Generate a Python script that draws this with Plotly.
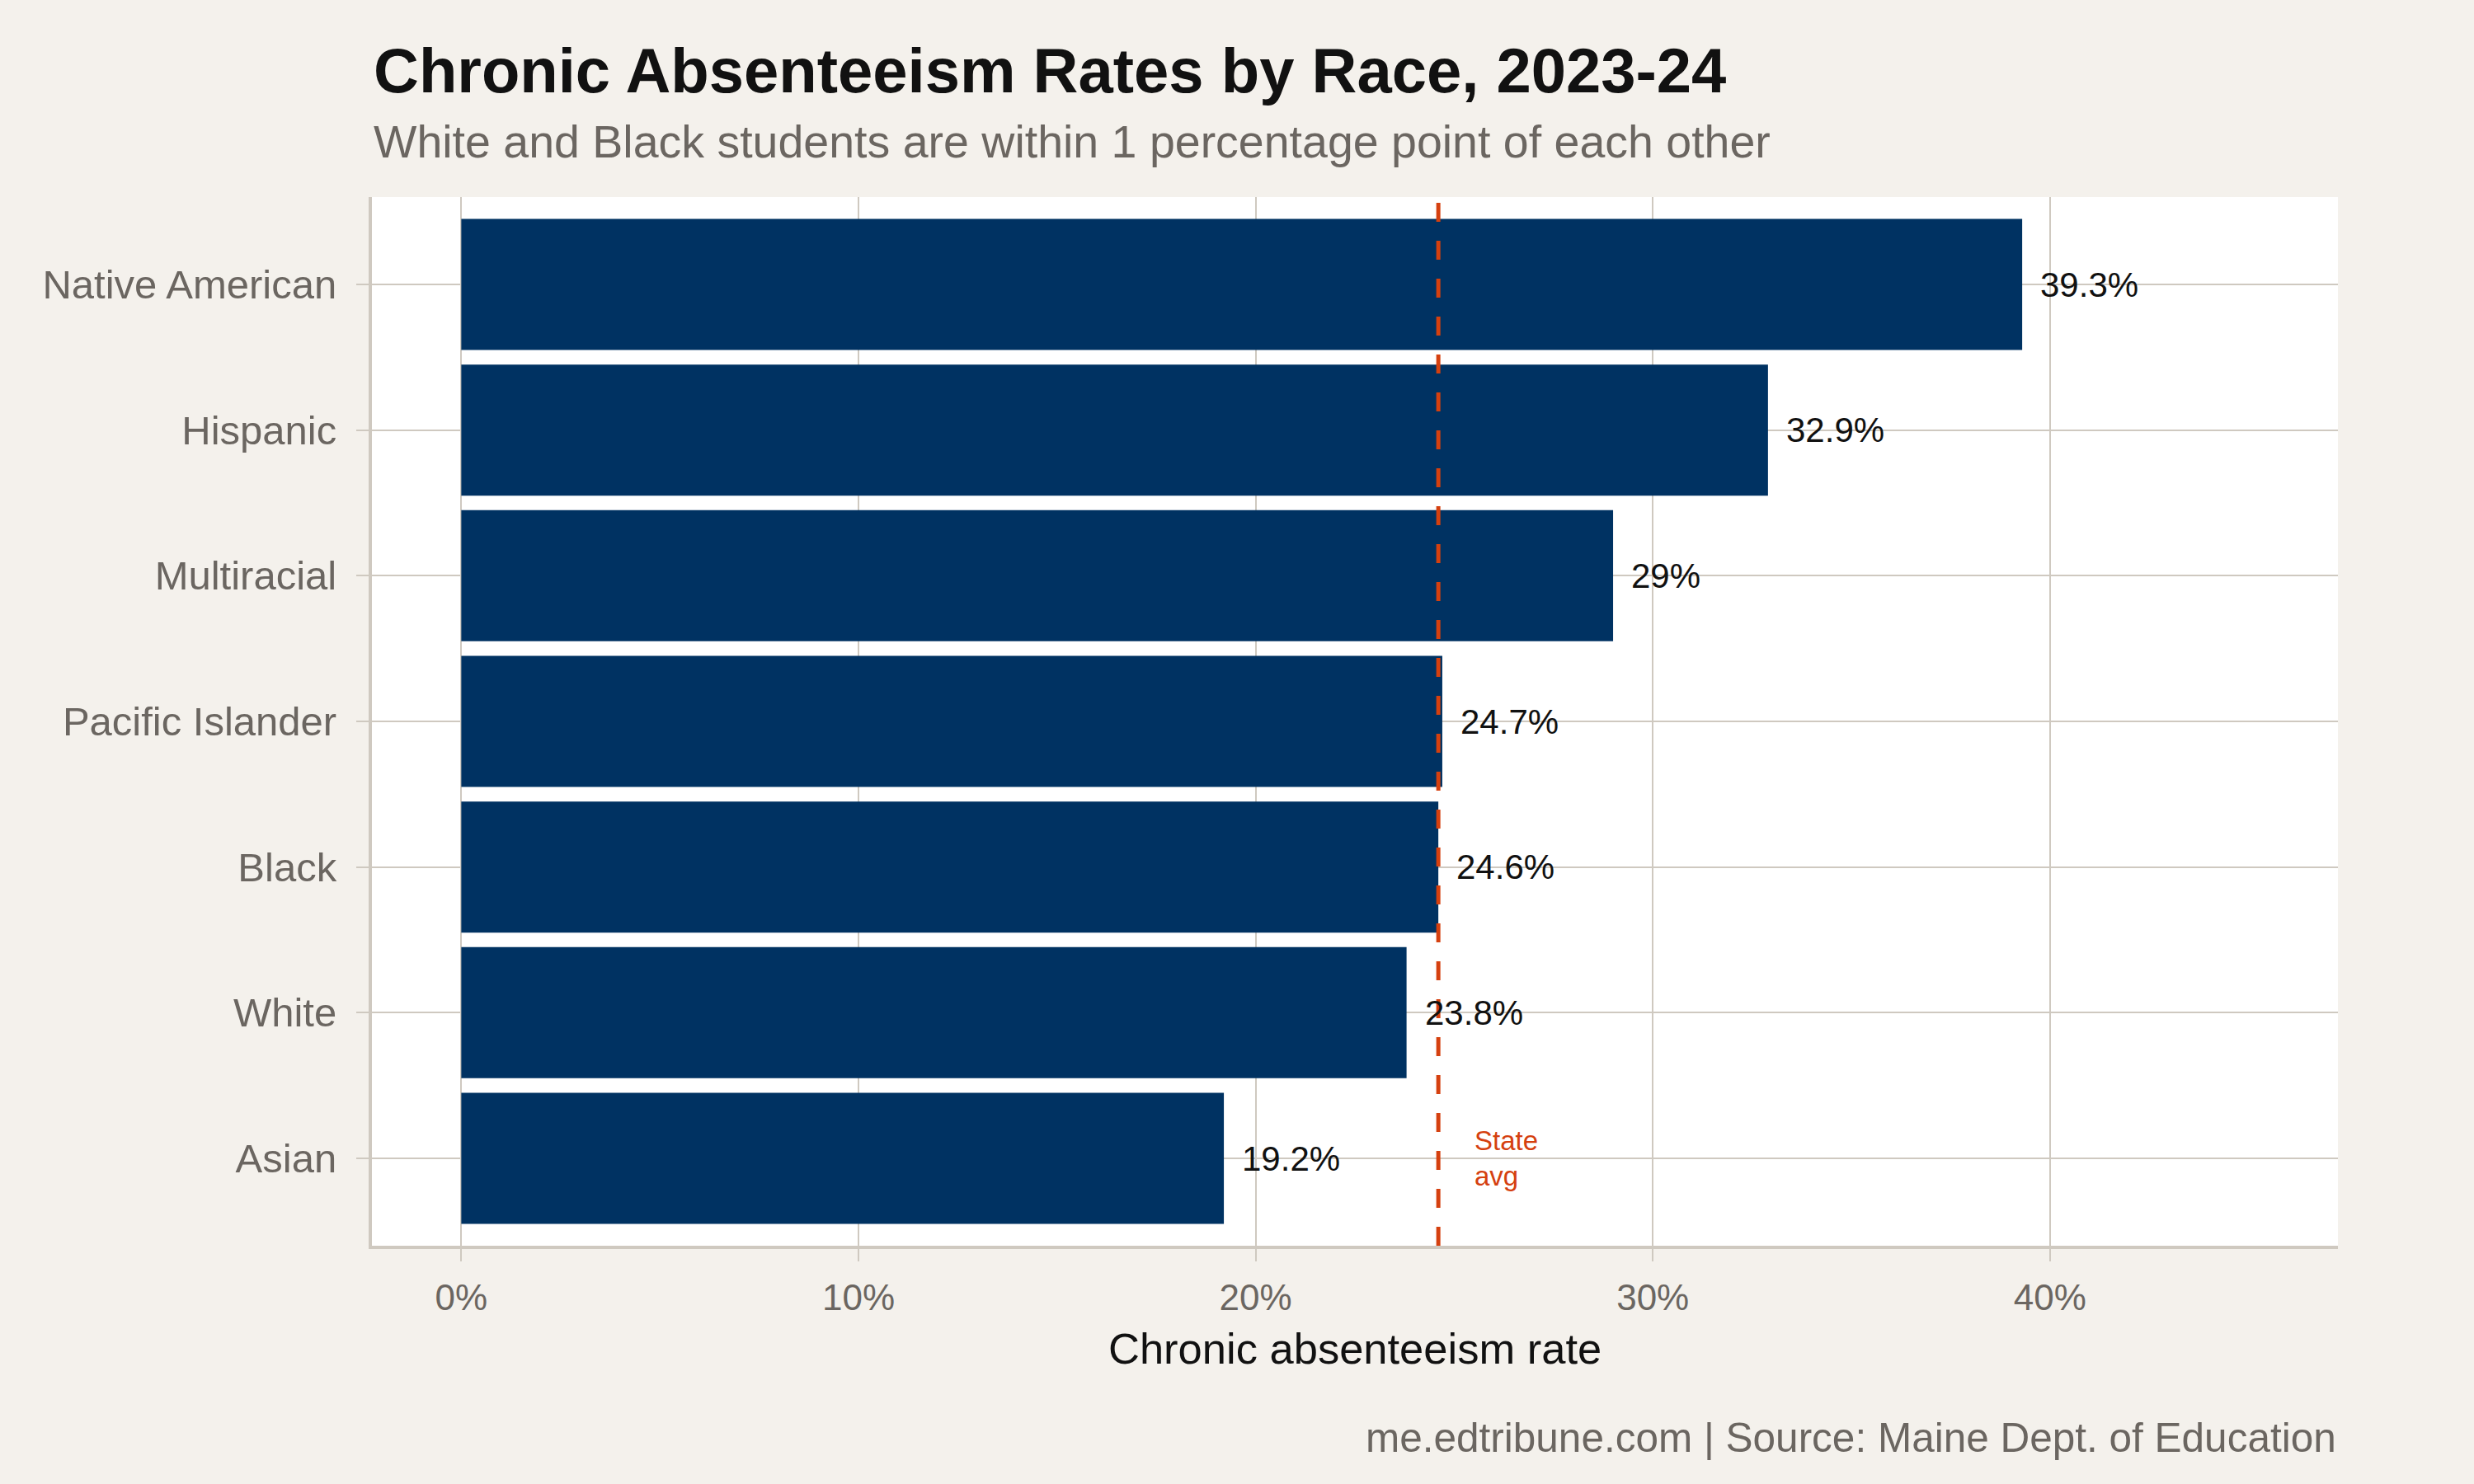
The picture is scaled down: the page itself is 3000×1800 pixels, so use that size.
import plotly.graph_objects as go

categories = ["Asian", "White", "Black", "Pacific Islander", "Multiracial", "Hispanic", "Native American"]
rates = [19.2, 23.8, 24.6, 24.7, 29.0, 32.9, 39.3]
rate_labels = ["19.2%", "23.8%", "24.6%", "24.7%", "29%", "32.9%", "39.3%"]
state_avg = 24.6
x_ticks = [0, 10, 20, 30, 40]
x_tick_labels = ["0%", "10%", "20%", "30%", "40%"]

FONT = "Liberation Sans"
BG = "#F4F1EC"
GRID = "#CFC9C0"
NAVY = "#003262"
RED = "#D5400F"
GRAY = "#6B6661"

fig = go.Figure()
fig.add_trace(go.Bar(
    x=rates, y=categories, orientation="h", width=0.9,
    marker=dict(color=NAVY, line=dict(width=0)),
    hoverinfo="skip", showlegend=False,
))

for c, v, t in zip(categories, rates, rate_labels):
    fig.add_annotation(x=v, y=c, xref="x", yref="y", text=t, showarrow=False,
                       xanchor="left", yanchor="middle", xshift=20,
                       font=dict(family=FONT, size=42, color="#111111"))

fig.add_shape(type="line", xref="x", yref="paper", x0=state_avg, x1=state_avg, y0=0, y1=1,
              line=dict(color=RED, width=5, dash="23px,23px"), layer="above")
fig.add_annotation(x=state_avg, y="Asian", xref="x", yref="y", text="State<br>avg",
                   showarrow=False, xanchor="left", yanchor="middle", xshift=42, align="left",
                   font=dict(family=FONT, size=33, color=RED))

# Titles
fig.add_annotation(x=0, y=1.1203, xref="paper", yref="paper", text="<b>Chronic Absenteeism Rates by Race, 2023-24</b>",
                   showarrow=False, xanchor="left", yanchor="middle",
                   font=dict(family=FONT, size=76, color="#111111"))
fig.add_annotation(x=0, y=1.0527, xref="paper", yref="paper", text="White and Black students are within 1 percentage point of each other",
                   showarrow=False, xanchor="left", yanchor="middle",
                   font=dict(family=FONT, size=55.5, color=GRAY))
fig.add_annotation(x=0.5, y=-0.0975, xref="paper", yref="paper", text="Chronic absenteeism rate",
                   showarrow=False, xanchor="center", yanchor="middle",
                   font=dict(family=FONT, size=52.5, color="#111111"))
fig.add_annotation(x=1, y=-0.1824, xref="paper", yref="paper", text="me.edtribune.com | Source: Maine Dept. of Education",
                   showarrow=False, xanchor="right", yanchor="middle",
                   font=dict(family=FONT, size=49.5, color=GRAY))

fig.update_layout(
    width=3000, height=1800,
    margin=dict(l=451, r=165, t=239, b=289, autoexpand=False),
    paper_bgcolor=BG, plot_bgcolor="white",
    bargap=0.1,
)
fig.update_xaxes(
    range=[-2.25, 47.25], tickvals=x_ticks, ticktext=x_tick_labels,
    showgrid=True, gridcolor=GRID, gridwidth=2, zeroline=False,
    showline=True, linecolor=GRID, linewidth=4,
    ticks="outside", ticklen=15, tickwidth=2, tickcolor=GRID,
    tickfont=dict(family=FONT, size=44, color=GRAY), ticklabelstandoff=6,
)
fig.update_yaxes(
    type="category", categoryorder="array", categoryarray=categories,
    range=[-0.6, 6.6],
    showgrid=True, gridcolor=GRID, gridwidth=2, zeroline=False,
    showline=True, linecolor=GRID, linewidth=4,
    ticks="outside", ticklen=15, tickwidth=2, tickcolor=GRID,
    tickfont=dict(family=FONT, size=49, color=GRAY), ticklabelstandoff=14,
)

fig.write_html("out.html")
